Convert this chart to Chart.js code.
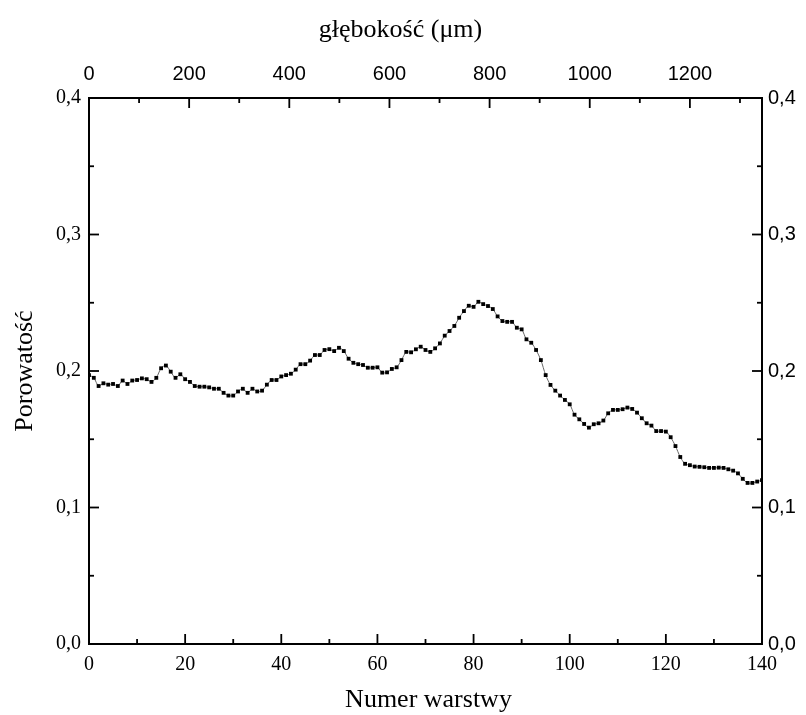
<!DOCTYPE html>
<html><head><meta charset="utf-8">
<script src="https://cdn.jsdelivr.net/npm/chart.js@4"></script>
<style>html,body{margin:0;padding:0;background:#fff}#wrap{width:806px;height:715px;position:relative}</style>
</head><body><div id="wrap"><canvas id="c" width="806" height="715"></canvas></div>
<script>
// Layer number (bottom axis)
const layers = [0,1,2,3,4,5,6,7,8,9,10,11,12,13,14,15,16,17,18,19,20,21,22,23,24,25,26,27,28,29,30,31,32,33,34,35,36,37,38,39,40,41,42,43,44,45,46,47,48,49,50,51,52,53,54,55,56,57,58,59,60,61,62,63,64,65,66,67,68,69,70,71,72,73,74,75,76,77,78,79,80,81,82,83,84,85,86,87,88,89,90,91,92,93,94,95,96,97,98,99,100,101,102,103,104,105,106,107,108,109,110,111,112,113,114,115,116,117,118,119,120,121,122,123,124,125,126,127,128,129,130,131,132,133,134,135,136,137,138,139,140];
// Porosity per layer
const porosity = [0.197,0.195,0.189,0.191,0.190,0.1905,0.189,0.193,0.1905,0.193,
0.1934,0.1946,0.194,0.192,0.195,0.202,0.204,0.1995,0.195,0.1976,
0.194,0.192,0.189,0.1885,0.1885,0.188,0.187,0.187,0.184,0.182,
0.182,0.185,0.187,0.184,0.187,0.185,0.1856,0.190,0.1934,0.1934,
0.196,0.197,0.198,0.201,0.205,0.205,0.2076,0.2117,0.2117,0.2154,
0.216,0.2146,0.217,0.2146,0.209,0.206,0.205,0.2044,0.2024,0.2024,
0.2027,0.1988,0.199,0.2015,0.2027,0.208,0.214,0.2137,0.2159,0.2178,
0.2154,0.214,0.2166,0.2202,0.2259,0.2293,0.233,0.239,0.2439,0.2478,
0.247,0.2507,0.249,0.2476,0.2454,0.240,0.2366,0.236,0.236,0.2317,
0.2305,0.2232,0.2207,0.2154,0.208,0.197,0.1898,0.1856,0.182,0.1788,
0.1756,0.168,0.1646,0.1612,0.1585,0.161,0.1617,0.1637,0.169,0.1715,
0.1715,0.172,0.1732,0.1722,0.1695,0.1654,0.1617,0.160,0.156,0.156,
0.1556,0.1515,0.145,0.137,0.132,0.131,0.130,0.1298,0.1295,0.129,
0.129,0.1292,0.129,0.128,0.127,0.125,0.121,0.118,0.118,0.119,
0.120];
// Axis ranges and ticks
const layerRange = [0, 140];
const depthRange = [0, 1344];          // µm (top axis)
const porosityRange = [0, 0.4];
const bottomMajor = [0,20,40,60,80,100,120,140];
const bottomMinor = [10,30,50,70,90,110,130];
const topMajor = [0,200,400,600,800,1000,1200];
const topMinor = [100,300,500,700,900,1100,1300];
const yMajor = [0,0.1,0.2,0.3,0.4];
const yMinor = [0.05,0.15,0.25,0.35];
const xTitle = 'Numer warstwy';
const x2Title = 'głębokość (μm)';
const yTitle = 'Porowatość';

const SERIF = '"Liberation Serif", "Times New Roman", serif';
const SANS = '"Liberation Sans", Arial, sans-serif';
const fmtComma = v => Number(v).toFixed(1).replace('.', ',');
const fmtPlain = v => String(v);

const frame = {
  id: 'frame',
  afterDraw(chart) {
    const ctx = chart.ctx, a = chart.chartArea, s = chart.scales;
    ctx.save();
    ctx.strokeStyle = '#000';
    ctx.lineWidth = 2;
    ctx.strokeRect(a.left, a.top, a.right - a.left, a.bottom - a.top);
    ctx.lineWidth = 1.8;
    const MAJ = 10, MIN = 5;
    const vt = (px, len, top) => { ctx.beginPath(); if (top) { ctx.moveTo(px, a.top); ctx.lineTo(px, a.top + len); } else { ctx.moveTo(px, a.bottom); ctx.lineTo(px, a.bottom - len); } ctx.stroke(); };
    const ht = (py, len, right) => { ctx.beginPath(); if (right) { ctx.moveTo(a.right, py); ctx.lineTo(a.right - len, py); } else { ctx.moveTo(a.left, py); ctx.lineTo(a.left + len, py); } ctx.stroke(); };
    bottomMajor.forEach(v => vt(s.x.getPixelForValue(v), MAJ, false));
    bottomMinor.forEach(v => vt(s.x.getPixelForValue(v), MIN, false));
    topMajor.forEach(v => vt(s.x2.getPixelForValue(v), MAJ, true));
    topMinor.forEach(v => vt(s.x2.getPixelForValue(v), MIN, true));
    yMajor.forEach(v => { ht(s.y.getPixelForValue(v), MAJ, false); ht(s.y2.getPixelForValue(v), MAJ, true); });
    yMinor.forEach(v => { ht(s.y.getPixelForValue(v), MIN, false); ht(s.y2.getPixelForValue(v), MIN, true); });
    // titles
    ctx.fillStyle = '#000';
    ctx.textAlign = 'center';
    ctx.textBaseline = 'middle';
    ctx.font = '26px ' + SERIF;
    ctx.fillText(xTitle, (a.left + a.right) / 2 + 3, 700);
    ctx.fillText(x2Title, (a.left + a.right) / 2 - 25, 30);
    ctx.save();
    ctx.translate(25, (a.top + a.bottom) / 2);
    ctx.rotate(-Math.PI / 2);
    ctx.fillText(yTitle, 0, 0);
    ctx.restore();
    ctx.restore();
  }
};

const pts = layers.map((l, i) => ({ x: l, y: porosity[i] }));

new Chart(document.getElementById('c'), {
  type: 'line',
  data: { datasets: [{
    data: pts, xAxisID: 'x', yAxisID: 'y',
    borderColor: '#666', borderWidth: 1, tension: 0.3,
    pointStyle: 'rect', pointRadius: 2.7, pointBackgroundColor: '#000', pointBorderWidth: 0,
    fill: false
  }]},
  options: {
    responsive: false, animation: false,
    layout: { padding: 0 },
    plugins: { legend: { display: false }, tooltip: { enabled: false } },
    scales: {
      x: {
        type: 'linear', position: 'bottom', min: layerRange[0], max: layerRange[1],
        afterBuildTicks: sc => { sc.ticks = bottomMajor.map(v => ({ value: v })); },
        afterFit: sc => { sc.height = 71; },
        grid: { display: false, drawTicks: false }, border: { display: false },
        ticks: { color: '#000', font: { family: SERIF, size: 20 }, padding: 9, maxRotation: 0, callback: fmtPlain }
      },
      x2: {
        type: 'linear', position: 'top', min: depthRange[0], max: depthRange[1],
        afterBuildTicks: sc => { sc.ticks = topMajor.map(v => ({ value: v })); },
        afterFit: sc => { sc.height = 98; },
        grid: { display: false, drawTicks: false }, border: { display: false },
        ticks: { color: '#000', font: { family: SANS, size: 20 }, padding: 12, maxRotation: 0, callback: fmtPlain }
      },
      y: {
        type: 'linear', position: 'left', min: porosityRange[0], max: porosityRange[1],
        afterBuildTicks: sc => { sc.ticks = yMajor.map(v => ({ value: v })); },
        afterFit: sc => { sc.width = 89; },
        grid: { display: false, drawTicks: false }, border: { display: false },
        ticks: { color: '#000', font: { family: SERIF, size: 20 }, padding: 8, callback: fmtComma }
      },
      y2: {
        type: 'linear', position: 'right', min: porosityRange[0], max: porosityRange[1],
        afterBuildTicks: sc => { sc.ticks = yMajor.map(v => ({ value: v })); },
        afterFit: sc => { sc.width = 44; },
        grid: { display: false, drawTicks: false }, border: { display: false },
        ticks: { color: '#000', font: { family: SANS, size: 20 }, padding: 6, callback: fmtComma }
      }
    }
  },
  plugins: [frame]
});
</script></body></html>
